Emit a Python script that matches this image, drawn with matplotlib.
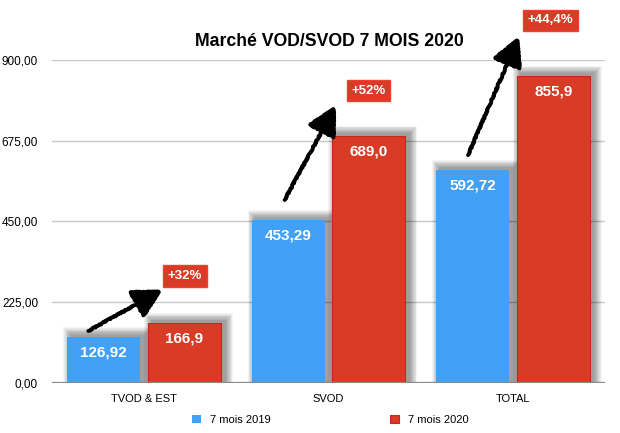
import matplotlib.pyplot as plt
from matplotlib.patches import Rectangle
import numpy as np

plt.rcParams['font.family'] = ['Liberation Sans', 'DejaVu Sans']

categories = ['TVOD & EST', 'SVOD', 'TOTAL']
series_names = ['7 mois 2019', '7 mois 2020']
vals_2019 = [126.92, 453.29, 592.72]
vals_2020 = [166.9, 689.0, 855.9]
labels_2019 = ['126,92', '453,29', '592,72']
labels_2020 = ['166,9', '689,0', '855,9']
growth = ['+32%', '+52%', '+44,4%']
yticks = [0, 225, 450, 675, 900]

blue = '#42a1f5'
red = '#d93b27'

fig = plt.figure(figsize=(6.2, 4.33), dpi=100)
ax = fig.add_axes([52 / 620, 1 - 383 / 433, 553 / 620, 323 / 433])

x = np.arange(len(categories))
w = 0.395
off = 0.219

# pixel -> data scale
px = 1 / 185
py = 900 / 323

# soft drop shadows behind the bars
for xs, vals in ((x - off, vals_2019), (x + off, vals_2020)):
    for xc, v in zip(xs, vals):
        for k in range(10):
            r = 0.8 * (10 - k)
            ax.add_patch(Rectangle((xc - w / 2 + 4 * px - r * px, 0),
                                   w + 2 * r * px, v + 2 * py + r * py,
                                   facecolor='black', alpha=0.045, lw=0, zorder=1))

b1 = ax.bar(x - off, vals_2019, width=w, color=blue, zorder=3, label=series_names[0])
b2 = ax.bar(x + off, vals_2020, width=w, color=red, edgecolor='#c8281a', linewidth=0.8,
            zorder=3, label=series_names[1])

for bars, labs in ((b1, labels_2019), (b2, labels_2020)):
    for r, lab in zip(bars, labs):
        ax.annotate(lab, (r.get_x() + r.get_width() / 2, r.get_height()),
                    xytext=(0, -6), textcoords='offset points', ha='center', va='top',
                    color='white', fontsize=11, fontweight='bold', zorder=5)

ax.set_xlim(-0.5, 2.5)
ax.set_ylim(0, 900)
ax.set_yticks(yticks)
ax.set_yticklabels([f'{v:.2f}'.replace('.', ',') for v in yticks], fontsize=8.5)
ax.set_xticks(x)
ax.set_xticklabels(categories, fontsize=8)
ax.tick_params(length=0, axis='y', pad=10)
ax.tick_params(length=0, axis='x', pad=8)
for s in ax.spines.values():
    s.set_visible(False)
ax.grid(axis='y', color='#c8c8c8', linewidth=1, zorder=0)
ax.set_axisbelow(True)
ax.axhline(0, color='#888888', linewidth=1.6, zorder=4)

# hand drawn growth arrows and boxes
arrows = [((-0.303, 145), (0.097, 259)),
          ((0.762, 510), (1.038, 772)),
          ((1.757, 635), (2.032, 964))]
boxes = [(0.222, 298), (1.216, 814), (2.205, 1011)]
for (p0, p1), bpos, g in zip(arrows, boxes, growth):
    a = ax.annotate('', xy=p1, xytext=p0,
                    arrowprops=dict(arrowstyle='-|>,head_length=1.1,head_width=0.6',
                                    color='black', lw=2.8, mutation_scale=16,
                                    shrinkA=0, shrinkB=0),
                    annotation_clip=False, zorder=6)
    a.arrow_patch.set_sketch_params(scale=0.6, length=3, randomness=4)
    ax.text(bpos[0], bpos[1], g, ha='center', va='center', color='white',
            fontsize=9.5, fontweight='bold', zorder=7, clip_on=False,
            bbox=dict(boxstyle='square,pad=0.35', facecolor=red, edgecolor='#f04030', lw=1))

fig.text(0.532, 1 - 41 / 433, 'Marché VOD/SVOD 7 MOIS 2020', ha='center', va='center',
         fontsize=12.7, fontweight='bold')

fig.legend(handles=[b1, b2], labels=series_names, loc='center', ncol=2,
           bbox_to_anchor=(0.533, 1 - 420 / 433), frameon=False, fontsize=8,
           handlelength=0.8, handleheight=0.8, columnspacing=10.8, handletextpad=0.8)

fig.savefig('out.png', dpi=100)
